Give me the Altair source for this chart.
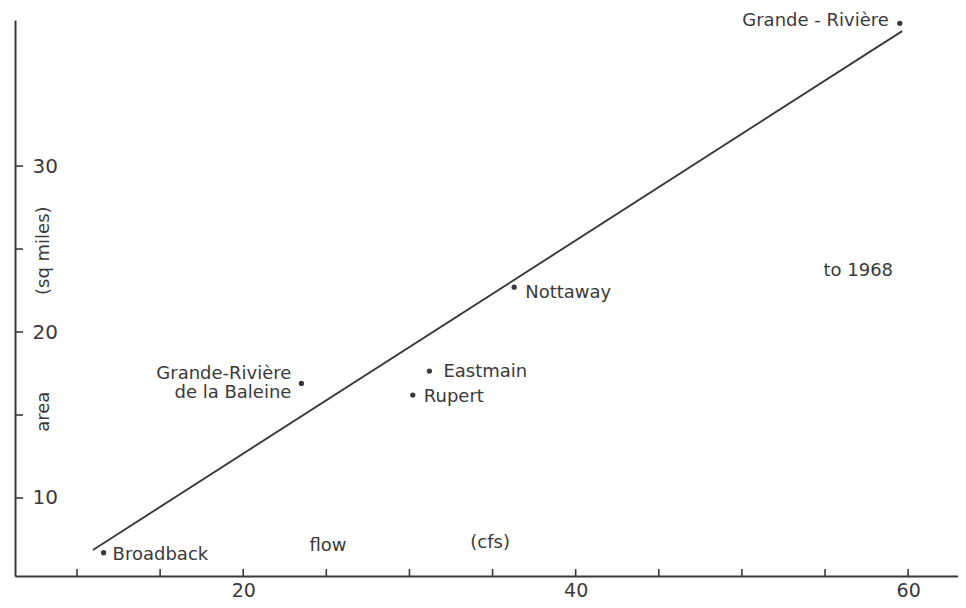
import altair as alt
import pandas as pd

# ---- data ----
rivers = ["Broadback", "Grande-Rivière\nde la Baleine", "Rupert", "Eastmain", "Nottaway", "Grande - Rivière"]
flow = [11.6, 23.5, 30.2, 31.2, 36.3, 59.5]
area = [6.7, 16.9, 16.2, 17.65, 22.7, 38.6]

fit_flow = [10.96, 59.64]
fit_area = [6.87, 38.13]

x_ticks = [10, 15, 20, 25, 30, 35, 40, 45, 50, 55, 60]
x_labels = [20, 40, 60]
y_ticks = [10, 15, 20, 25, 30]
y_labels = [10, 20, 30]

note_text = ["flow", "(cfs)", "to 1968"]
note_x = [25.1, 34.85, 57.0]
note_y = [7.1, 7.3, 23.7]

ytitle_text = ["area", "(sq miles)"]
ytitle_x = [8.0, 8.0]
ytitle_y = [15.2, 24.9]

X_DOMAIN = [6.27, 63.0]
Y_DOMAIN = [5.30, 38.8]

INK = "#3a3a3a"
FONT = "DejaVu Sans"

pts = pd.DataFrame({"river": rivers, "flow": flow, "area": area})
fit = pd.DataFrame({"flow": fit_flow, "area": fit_area})
xt = pd.DataFrame({"v": x_ticks})
yt = pd.DataFrame({"v": y_ticks})
notes = pd.DataFrame({"t": note_text, "x": note_x, "y": note_y})
ytit = pd.DataFrame({"t": ytitle_text, "x": ytitle_x, "y": ytitle_y})

xs = alt.Scale(domain=X_DOMAIN, nice=False, zero=False)
ys = alt.Scale(domain=Y_DOMAIN, nice=False, zero=False)

xaxis = alt.Axis(values=x_labels, ticks=False, tickSize=0, grid=False, title=None,
                 labelFont=FONT, labelFontSize=19, labelColor=INK, labelPadding=5,
                 domainColor=INK, domainWidth=2)
yaxis = alt.Axis(values=y_labels, ticks=False, tickSize=0, grid=False, title=None,
                 labelFont=FONT, labelFontSize=20, labelColor=INK, labelAlign="left",
                 labelPadding=-17, domainColor=INK, domainWidth=2)

base_pts = alt.Chart(pts).mark_circle(size=28, color=INK, opacity=1).encode(
    x=alt.X("flow:Q", scale=xs, axis=xaxis),
    y=alt.Y("area:Q", scale=ys, axis=yaxis),
)

line = alt.Chart(fit).mark_line(color=INK, strokeWidth=1.9).encode(
    x=alt.X("flow:Q", scale=xs), y=alt.Y("area:Q", scale=ys)
)

xtick_marks = alt.Chart(xt).mark_rule(color=INK, strokeWidth=1.6).encode(
    x=alt.X("v:Q", scale=xs), y=alt.value(556), y2=alt.value(549)
)
ytick_marks = alt.Chart(yt).mark_rule(color=INK, strokeWidth=1.6).encode(
    y=alt.Y("v:Q", scale=ys), x=alt.value(0), x2=alt.value(8)
)

# label styling per river: (align, dx, dy)
label_style = {
    "Broadback": ("left", 9, 2),
    "Grande-Rivière\nde la Baleine": ("right", -10, -9),
    "Rupert": ("left", 11, 2),
    "Eastmain": ("left", 14, 1),
    "Nottaway": ("left", 11, 6),
    "Grande - Rivière": ("right", -11, -2),
}
label_layers = []
for name, (al, dx, dy) in label_style.items():
    label_layers.append(
        alt.Chart(pts).transform_filter(alt.datum.river == name)
        .mark_text(align=al, baseline="middle", dx=dx, dy=dy, font=FONT, fontSize=18,
                   color=INK, lineBreak="\n", lineHeight=19)
        .encode(x=alt.X("flow:Q", scale=xs), y=alt.Y("area:Q", scale=ys), text="river:N")
    )

note_layer = alt.Chart(notes).mark_text(font=FONT, fontSize=18, color=INK,
                                        align="center", baseline="middle").encode(
    x=alt.X("x:Q", scale=xs), y=alt.Y("y:Q", scale=ys), text="t:N"
)
ytitle_layer = alt.Chart(ytit).mark_text(font=FONT, fontSize=18, color=INK, angle=270,
                                         align="center", baseline="middle").encode(
    x=alt.X("x:Q", scale=xs), y=alt.Y("y:Q", scale=ys), text="t:N"
)

chart = alt.layer(
    base_pts, line, xtick_marks, ytick_marks, note_layer, ytitle_layer, *label_layers
).properties(
    width=943, height=556,
    autosize=alt.AutoSizeParams(type="none"),
    padding={"left": 7, "top": 12, "right": 0, "bottom": 27},
    background="white",
).configure_view(stroke=None)

chart.save("out.html", embed_options={"renderer": "svg", "actions": False})
